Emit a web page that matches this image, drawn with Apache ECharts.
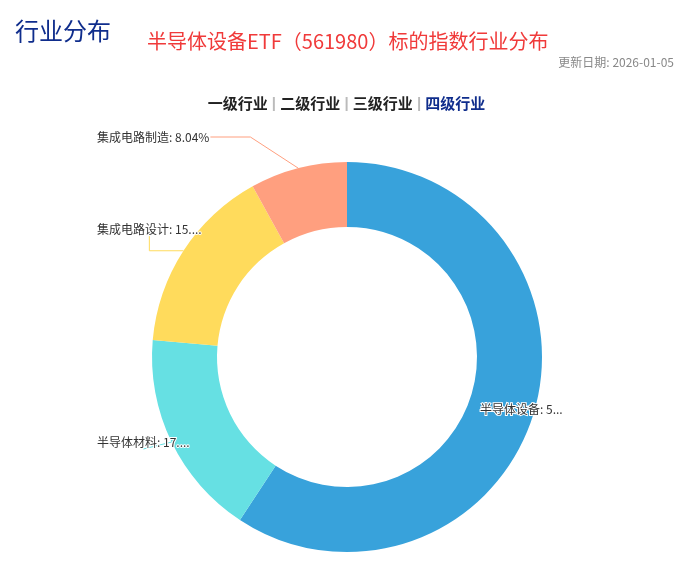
<!DOCTYPE html><html><head><meta charset="utf-8"><script src="https://cdn.jsdelivr.net/npm/echarts@6/dist/echarts.min.js"></script>
<style>html,body{margin:0;padding:0;background:#fff}#c{width:693px;height:563px}</style></head><body><div id="c"></div><script>
const categories=['半导体设备','半导体材料','集成电路设计','集成电路制造'];
const values=[59.25,17.13,15.58,8.04];
const colors=['#38a2db','#66e0e3','#ffdb5c','#ff9f7f'];
const labelPos=[[480,409],[97,442],[97,229],[97,137]];
const chart=echarts.init(document.getElementById('c'));
const F='"Microsoft YaHei","Noto Sans CJK SC",sans-serif';
chart.setOption({
 animation:false,
 title:[
  {text:'行业分布',left:10,top:14,textStyle:{color:'#0f2d8c',fontSize:24,fontWeight:'normal',fontFamily:F}},
  {text:'半导体设备ETF（561980）标的指数行业分布',left:142,top:26,textStyle:{color:'#f03a3a',fontSize:20,fontWeight:'normal',fontFamily:F}},
  {text:'更新日期: 2026-01-05',right:14,top:51,textStyle:{color:'#888',fontSize:12,fontWeight:'normal',fontFamily:F}},
  {text:'{a|一级行业}{s| | }{a|二级行业}{s| | }{a|三级行业}{s| | }{b|四级行业}',left:'center',top:91,
   textStyle:{rich:{a:{color:'#222',fontSize:15,fontFamily:F},b:{color:'#0f2d8c',fontSize:15,fontFamily:F},s:{color:'#bbb',fontSize:15}}}}
 ],
 series:[{type:'pie',center:[347,357],radius:[130,195],startAngle:90,clockwise:true,
  data:categories.map((n,i)=>({name:n,value:values[i],itemStyle:{color:colors[i]}})),
  label:{formatter:'{b}: {d}%',fontSize:12,color:'#333',fontFamily:F,textBorderColor:'#fff',textBorderWidth:2},
  labelLine:{show:true,length:20,length2:40},
  labelLayout:function(p){const i=p.dataIndex;return {x:labelPos[i][0],y:labelPos[i][1],align:'left',verticalAlign:'middle'};}
 }]
});
</script></body></html>
